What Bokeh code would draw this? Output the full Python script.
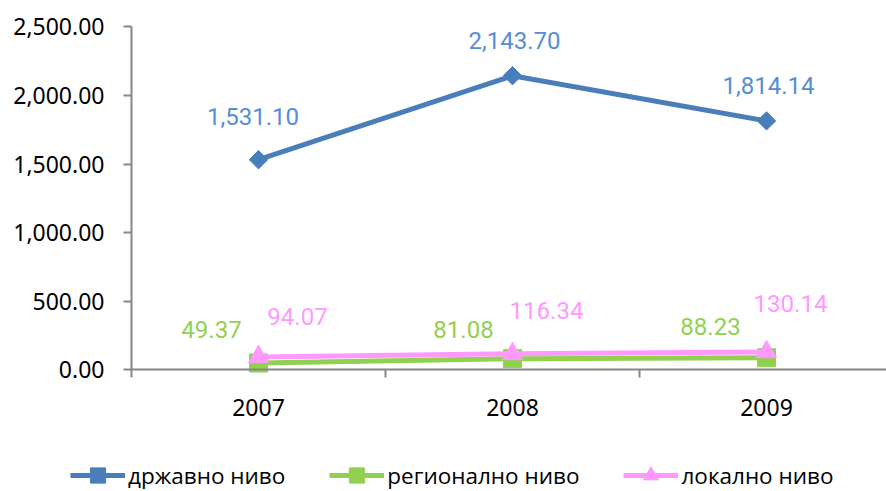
from bokeh.plotting import figure
from bokeh.models import (Range1d, FixedTicker, NumeralTickFormatter, Legend, LegendItem,
                          ColumnDataSource)
from bokeh.core.properties import value
from bokeh.embed import file_html
from bokeh.resources import INLINE
import math

years = ["2007", "2008", "2009"]
series_names = ["државно ниво", "регионално ниво", "локално ниво"]
drzavno = [1531.10, 2143.70, 1814.14]
regionalno = [49.37, 81.08, 88.23]
lokalno = [94.07, 116.34, 130.14]
y_ticks = [0, 500, 1000, 1500, 2000, 2500]

# styling: label offsets in screen pixels
lab_dx = {"d": [-5.5, 2, 2], "r": [-47, -49, -56], "l": [39, 34, 24]}
lab_dy = {"d": [-43, -35.5, -35.5], "r": [-34, -29, -31], "l": [-40, -43, -48]}

xs = list(range(len(years)))

W, H = 886, 491
x0_px, y0_px, ytop_px = 131.0, 369.3, 26.3     # plot-area layout in pixels
cat_px = 254.0
ymax = y_ticks[-1]
py = (y0_px - ytop_px) / ymax
x_start = -0.5 - x0_px / cat_px
x_end = -0.5 + (W - x0_px) / cat_px
y_start = -(H - y0_px) / py
y_end = y0_px / py

p = figure(width=W, height=H, x_range=Range1d(x_start, x_end), y_range=Range1d(y_start, y_end),
           output_backend="svg", toolbar_location=None,
           min_border_left=0, min_border_right=0, min_border_top=0, min_border_bottom=0)
p.xgrid.visible = False
p.ygrid.visible = False
p.outline_line_color = None
p.background_fill_color = "white"
p.border_fill_color = "white"

axis_col = "#868686"
# y axis
yax = p.yaxis[0]
yax.fixed_location = -0.5
yax.bounds = (0, ymax)
yax.ticker = FixedTicker(ticks=y_ticks)
yax.formatter = NumeralTickFormatter(format="0,0.00")
yax.axis_line_color = axis_col
yax.axis_line_width = 2
yax.major_tick_line_color = axis_col
yax.major_tick_line_width = 2
yax.major_tick_in = 0
yax.major_tick_out = 8
yax.minor_tick_line_color = None
yax.major_label_standoff = 19
yax.major_label_text_font = "Noto Sans"
yax.major_label_text_font_size = "23px"
yax.major_label_text_color = "black"

# x axis
xax = p.xaxis[0]
xax.fixed_location = 0
xax.bounds = (-0.5, x_end)
xax.ticker = FixedTicker(ticks=xs, minor_ticks=[x - 0.5 for x in xs] + [len(xs) - 0.5])
xax.major_label_overrides = {i: y for i, y in enumerate(years)}
xax.axis_line_color = axis_col
xax.axis_line_width = 2
xax.major_tick_line_color = None
xax.major_tick_in = 0
xax.major_tick_out = 0
xax.minor_tick_line_color = axis_col
xax.minor_tick_line_width = 2
xax.minor_tick_in = 0
xax.minor_tick_out = 8
xax.major_label_standoff = 21
xax.major_label_text_font = "Noto Sans"
xax.major_label_text_font_size = "23px"
xax.major_label_text_color = "black"

specs = [
    ("d", drzavno, "#4A7EBB", "#558ED5", "square", 13, math.pi / 4),
    ("r", regionalno, "#92D050", "#92D050", "square", 18, 0),
    ("l", lokalno, "#FF99FF", "#FF99FF", "triangle", 20, 0),
]

items = []
for (key, vals, lc, tc, mk, ms, ang), name in zip(specs, series_names):
    lr = p.line(xs, vals, line_color=lc, line_width=5)
    sr = p.scatter(xs, vals, marker=mk, size=ms, angle=ang, fill_color=lc, line_color=lc)
    items.append(LegendItem(label=name, renderers=[lr, sr]))

for (key, vals, lc, tc, mk, ms, ang) in specs:
    src = ColumnDataSource(dict(x=xs, y=vals, t=["{:,.2f}".format(v) for v in vals],
                                dx=lab_dx[key], dy=lab_dy[key]))
    p.text(x="x", y="y", text="t", x_offset="dx", y_offset="dy", source=src,
           text_color=tc, text_font=value("Roboto"), text_font_size="24px",
           text_align="center", text_baseline="middle")

legend = Legend(items=items, orientation="horizontal", location=(70, -3),
                glyph_width=55, glyph_height=38, label_standoff=3, spacing=44,
                padding=0, margin=0, border_line_color=None, background_fill_alpha=0,
                label_text_font="Open Sans", label_text_font_size="22.5px",
                label_text_color="black")
p.add_layout(legend, "center")

open("out.html", "w").write(file_html(p, INLINE))
